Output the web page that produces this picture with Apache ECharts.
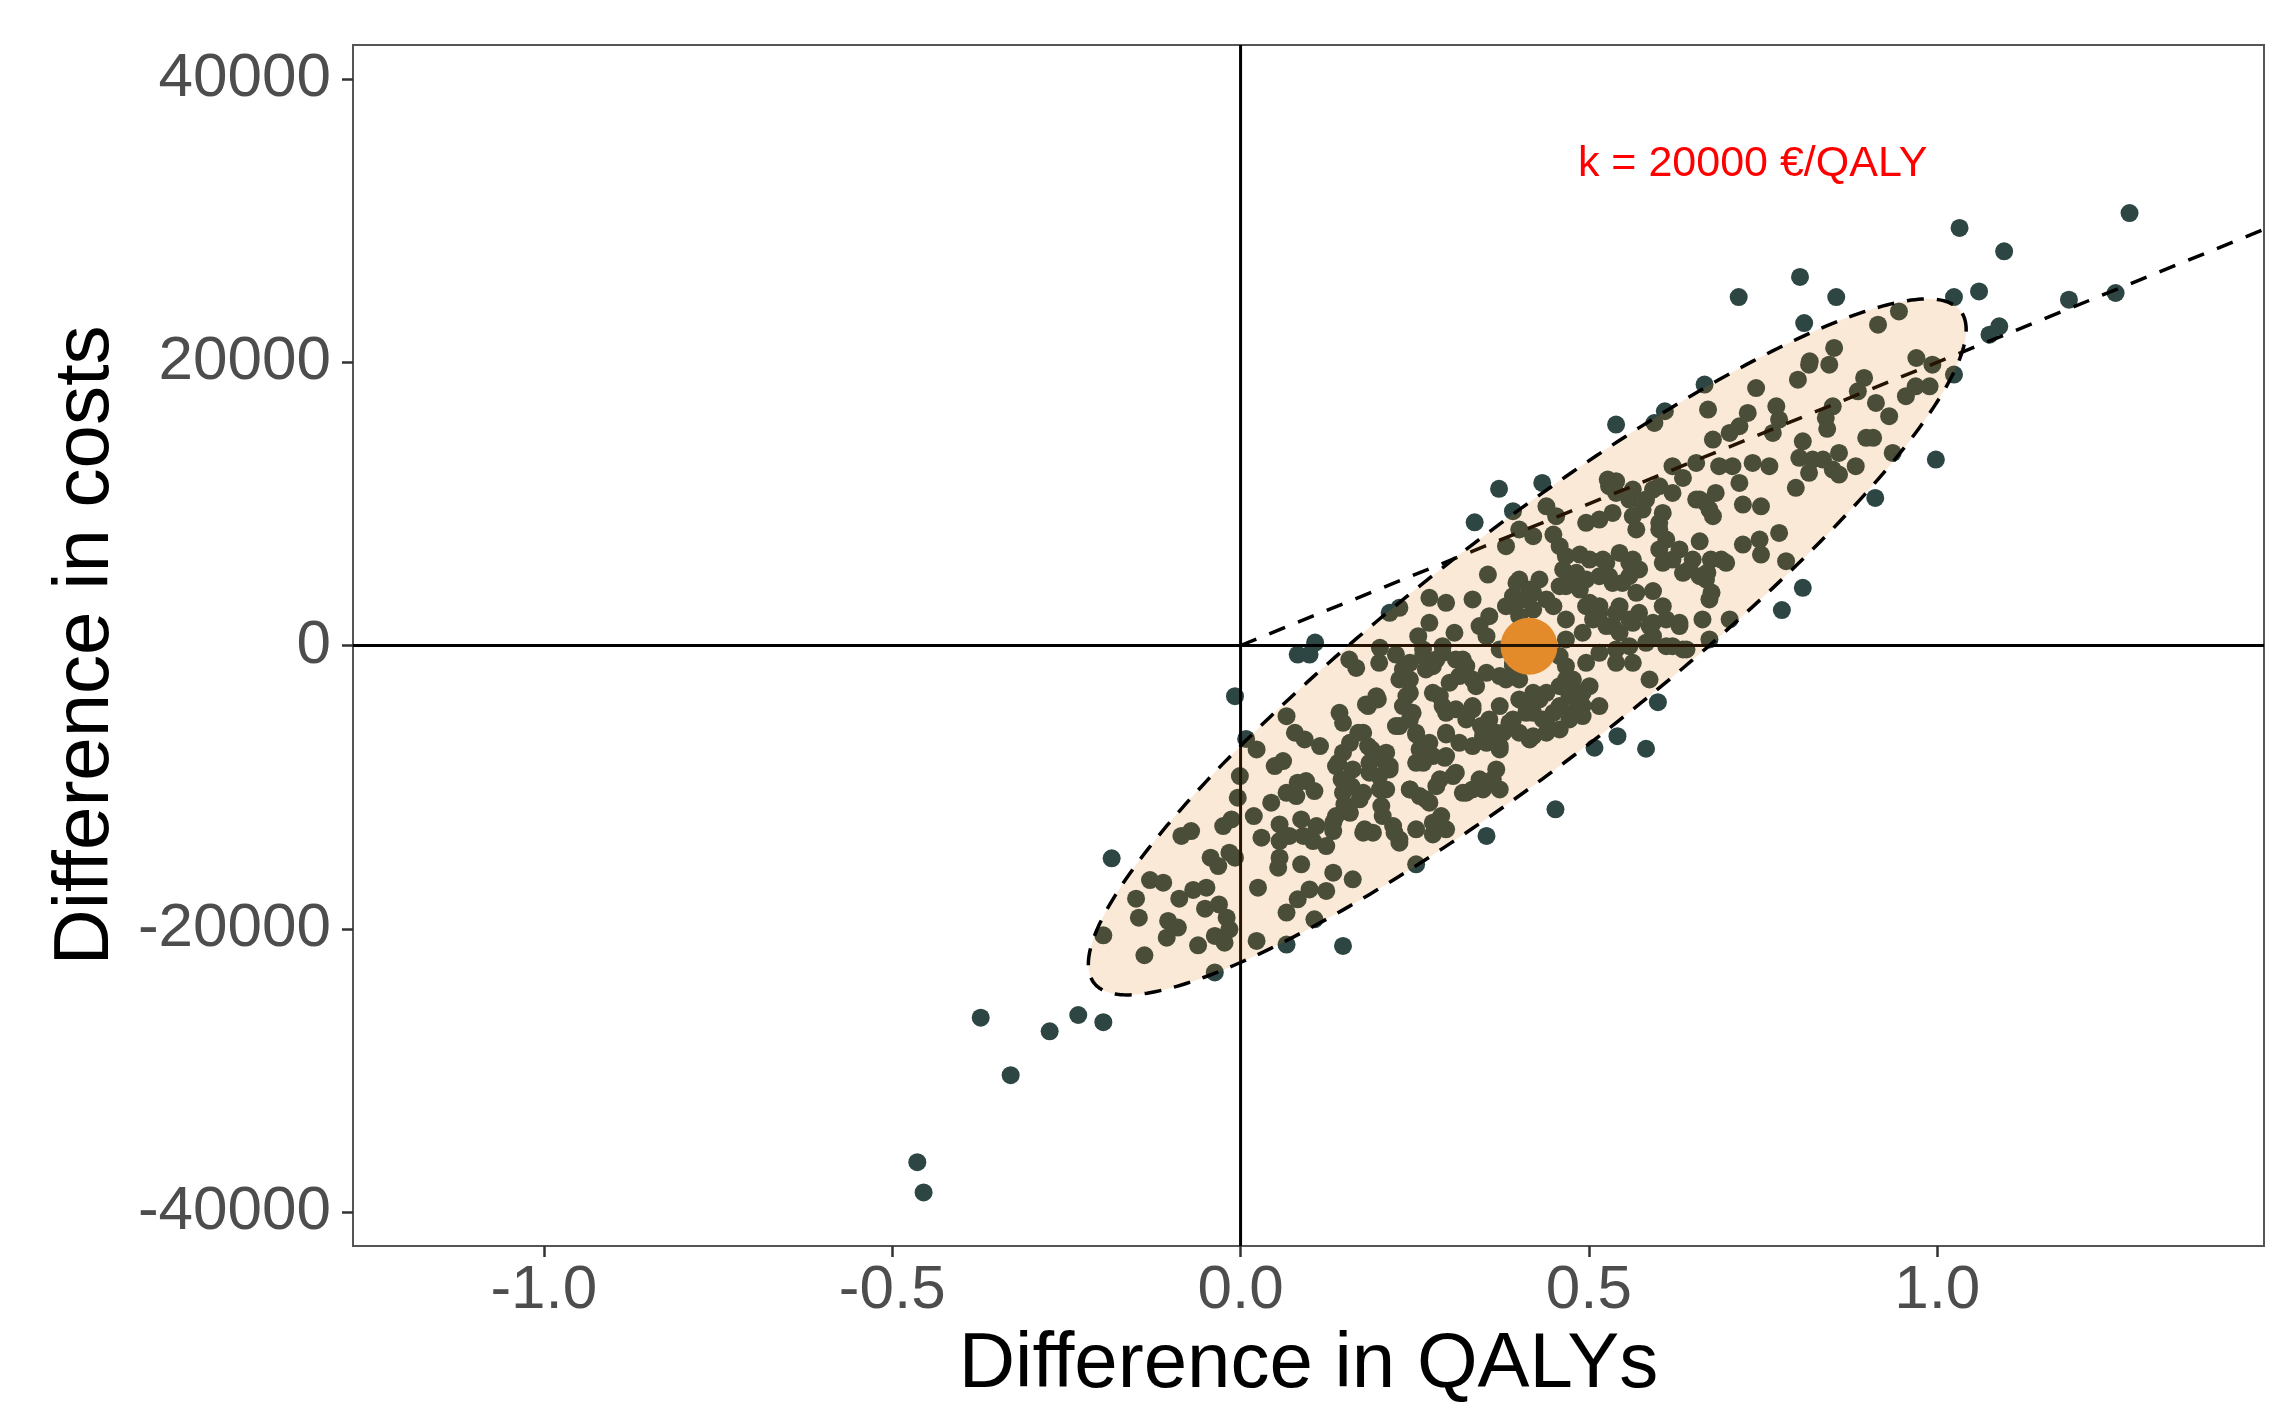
<!DOCTYPE html>
<html><head><meta charset="utf-8">
<script src="https://cdn.jsdelivr.net/npm/echarts@6/dist/echarts.min.js"></script>
<style>html,body{margin:0;padding:0;background:#fff;overflow:hidden}#c{width:2272px;height:1403px}</style>
</head><body><div id="c"></div>
<script>
// ---- data (QALY difference, cost difference) ----
const outlierPoints = [[-0.464,-36480],[-0.455,-38620],[-0.373,-26280],[-0.330,-30340],[-0.274,-27240],[-0.233,-26090],[-0.197,-26600],[-0.185,-15030],[-0.008,-3580],[0.008,-6600],[0.082,-640],[0.099,-640],[0.107,210],[0.066,-21120],[0.147,-21210],[0.252,-15450],[-0.037,-23080],[0.214,2310],[0.336,8700],[0.371,11060],[0.433,11480],[0.391,9480],[0.599,-4000],[0.541,-6400],[0.582,-7290],[0.508,-7220],[0.452,-11570],[0.666,18420],[0.609,16540],[0.539,15600],[0.911,10420],[0.807,4070],[0.777,2500],[1.096,27830],[0.803,26020],[0.715,24600],[0.855,24600],[0.809,22770],[1.024,24600],[1.060,25000],[1.189,24420],[1.256,24890],[1.089,22540],[1.075,21950],[1.024,19130],[0.998,13130],[1.032,29480],[1.276,30530]];
const lowerPoints = [[-0.197,-20460],[-0.138,-21870],[-0.146,-19220],[-0.150,-17880],[-0.130,-16560],[-0.111,-16750],[-0.088,-17880],[-0.068,-17260],[-0.049,-17100],[-0.104,-19450],[-0.090,-19920],[-0.106,-20630],[-0.061,-21170],[-0.051,-18580],[-0.031,-18280],[-0.020,-19220],[-0.016,-20040],[-0.037,-20510],[-0.023,-20980],[-0.043,-14980],[-0.032,-15570],[-0.016,-14630],[-0.008,-14980],[-0.025,-12750],[-0.013,-12280],[-0.085,-13450],[-0.071,-13100],[-0.004,-10750],[-0.001,-9220],[0.023,-7340],[0.019,-12040],[0.030,-13570],[0.025,-17100],[0.023,-20860]];
const lowerMidPoints = [[0.049,-8510],[0.061,-8160],[0.066,-4990],[0.078,-6160],[0.092,-6630],[0.114,-7100],[0.044,-11100],[0.066,-10400],[0.082,-9690],[0.094,-9570],[0.106,-10280],[0.080,-10630],[0.056,-12630],[0.087,-12280],[0.109,-12750],[0.056,-13810],[0.070,-13450],[0.090,-13450],[0.104,-13810],[0.123,-14160],[0.056,-14980],[0.054,-15690],[0.087,-15450],[0.133,-13100],[0.137,-12040],[0.149,-11220],[0.133,-16040],[0.161,-16510],[0.123,-17330],[0.099,-17220],[0.082,-17920],[0.066,-18860],[0.106,-19330],[0.142,-4750],[0.147,-5460],[0.137,-8510],[0.147,-7570],[0.145,-9460],[0.159,-9930],[0.176,-10400],[0.176,-6160],[0.188,-7340],[0.185,-8280],[0.209,-7570],[0.214,-8510],[0.199,-9220],[0.209,-10160],[0.202,-11340],[0.204,-12040],[0.178,-12980],[0.190,-13220],[0.221,-13220],[0.228,-13920],[0.180,-4160],[0.195,-3580],[0.156,-990],[0.166,-1580],[0.199,-1220],[0.223,-640],[0.233,-1690],[0.243,-2400],[0.243,-3340],[0.233,-4280],[0.243,-5220],[0.223,-5690],[0.252,-6280],[0.257,-7340],[0.252,-8280],[0.243,-10160],[0.257,-10630],[0.271,-11100],[0.281,-9930],[0.288,-12040],[0.276,-13340],[0.293,-7930],[0.295,-6280],[0.290,-4280],[0.300,-2630],[0.314,-2160],[0.319,-990],[0.281,-990],[0.266,-1690],[0.276,-3340],[0.305,-9220],[0.319,-10400],[0.262,-750]];
const lowerMidExtra = [[0.243,-1220],[0.262,-280],[0.276,-1460],[0.290,-520],[0.309,-990],[0.324,-1460],[0.333,-2400],[0.228,-2400],[0.238,-3570],[0.247,-4750],[0.228,-5690],[0.252,-6160],[0.271,-6870],[0.286,-3570],[0.295,-4750],[0.309,-4510],[0.324,-5220],[0.333,-4280],[0.345,-5690],[0.353,-6870],[0.367,-6160],[0.372,-7340],[0.386,-5690],[0.295,-6160],[0.314,-6870],[0.333,-7100],[0.295,-7810],[0.276,-7810],[0.262,-8280],[0.183,-4280],[0.197,-3810],[0.169,-6160],[0.183,-7100],[0.157,-6870],[0.140,-8280],[0.161,-8750],[0.185,-8980],[0.204,-8040],[0.214,-8750],[0.147,-10390],[0.171,-10860],[0.200,-10160],[0.157,-11810],[0.133,-12510],[0.176,-13220],[0.219,-12750],[0.228,-13690],[0.252,-12980],[0.276,-12510],[0.295,-12980],[0.243,-10160],[0.266,-10860],[0.286,-9450],[0.309,-8980],[0.324,-10390],[0.348,-10160],[0.362,-9450]];
const centralPoints = [[0.439,9830],[0.453,9130],[0.400,8190],[0.420,7720],[0.449,7830],[0.381,7010],[0.355,5010],[0.458,7010],[0.467,6310],[0.487,6420],[0.501,6070],[0.496,8660],[0.515,8890],[0.534,9360],[0.529,11250],[0.563,11010],[0.582,10300],[0.601,11250],[0.620,10770],[0.659,10300],[0.673,9600],[0.606,9360],[0.568,8190],[0.601,8190],[0.659,7360],[0.601,6780],[0.620,6070],[0.644,5370],[0.668,4660],[0.563,6070],[0.544,6540],[0.525,5840],[0.515,4890],[0.534,4420],[0.558,4890],[0.568,3720],[0.592,3840],[0.606,2780],[0.630,1600],[0.663,1840],[0.673,3250],[0.673,430],[0.635,-280],[0.611,-50],[0.587,1370],[0.563,1600],[0.544,2780],[0.534,1370],[0.515,2310],[0.496,2780],[0.491,900],[0.467,1840],[0.477,4660],[0.458,4190],[0.449,2780],[0.429,4660],[0.415,3950],[0.400,4660],[0.391,3480],[0.420,2540],[0.400,2070],[0.381,2780],[0.357,2070],[0.343,1370],[0.333,3250],[0.353,660],[0.372,-280],[0.467,430],[0.458,-750],[0.515,-520],[0.539,-280],[0.558,-50],[0.582,190],[0.563,-1220],[0.539,-1220],[0.496,-1220],[0.587,-2400],[0.467,-2400],[0.472,-3570],[0.491,-3340],[0.515,-4280],[0.491,-4980],[0.458,-4280],[0.439,-3340],[0.420,-3340],[0.410,-4280],[0.439,-5220],[0.415,-6630],[0.386,-5450],[0.372,-4280],[0.357,-5220],[0.348,-6400],[0.372,-7100],[0.333,-4510],[0.353,-1930],[0.381,-2400],[0.391,-1220],[0.338,-2870],[0.367,-8750],[0.372,-10160],[0.343,-9450],[0.333,-10160],[0.353,-13450],[0.228,2660],[0.271,3370],[0.295,3010],[0.271,1600],[0.255,660],[0.307,900],[0.200,-160],[0.290,-50]];
const centralExtra = [[0.396,4420],[0.420,3720],[0.405,3250],[0.391,2780],[0.439,3250],[0.463,5360],[0.482,5130],[0.496,4660],[0.467,4190],[0.487,3950],[0.520,6070],[0.558,5840],[0.572,5370],[0.529,4890],[0.548,4420],[0.501,3010],[0.515,2780],[0.539,2310],[0.558,1840],[0.506,1840],[0.525,1370],[0.544,900],[0.572,2310],[0.592,1600],[0.611,1840],[0.630,1370],[0.592,660],[0.620,-50],[0.640,-280],[0.601,8660],[0.611,7480],[0.630,6780],[0.649,6070],[0.606,5840],[0.635,5130],[0.659,4890],[0.539,10770],[0.558,10300],[0.577,9600],[0.592,11010],[0.563,9130],[0.654,10300],[0.668,10070],[0.678,9130],[0.682,10770],[0.391,-1460],[0.372,-2160],[0.400,-2400],[0.467,-1460],[0.477,-2400],[0.458,-2870],[0.482,-3340],[0.501,-2870],[0.491,-4280],[0.477,-4750],[0.449,-4750],[0.429,-3810],[0.420,-4750],[0.400,-3810],[0.410,-4750],[0.391,-5220],[0.377,-6160],[0.400,-6160],[0.420,-6400],[0.434,-5220],[0.439,-6160],[0.458,-5930],[0.472,-5220],[0.675,6070],[0.670,5150],[0.676,3740]];
const upperPoints = [[0.816,19830],[0.845,19830],[0.800,18770],[0.740,18180],[0.671,16660],[0.728,16420],[0.716,15480],[0.678,14540],[0.702,15010],[0.769,16890],[0.773,15950],[0.764,15010],[0.895,18890],[0.886,17950],[0.912,17130],[0.931,16190],[0.955,17600],[0.969,18300],[0.840,16070],[0.850,16890],[0.898,14660],[0.936,13600],[0.807,14420],[0.802,13250],[0.821,13130],[0.836,13130],[0.859,13600],[0.883,12660],[0.850,12420],[0.816,12190],[0.797,11130],[0.859,12070],[0.620,12660],[0.654,12890],[0.635,11830],[0.594,15710],[0.687,12660],[0.706,12660],[0.735,12890],[0.759,12660],[0.716,11480],[0.721,9950],[0.747,9830],[0.527,11720],[0.539,11600],[0.721,7130],[0.745,7480],[0.773,7950],[0.747,6420],[0.783,5950],[0.702,1840],[0.690,6070],[0.697,5840],[0.842,15300],[0.908,14660],[0.945,23590],[0.915,22650],[0.852,21010],[0.817,20070],[0.970,20300],[0.993,19830],[0.989,18300]];
const meanPoint = [0.414, -50];
const xTicks = [-1.0, -0.5, 0.0, 0.5, 1.0];
const yTicks = [-40000, -20000, 0, 20000, 40000];
const wtpK = 20000;
const wtpLabel = 'k = 20000 €/QALY';
const wtpLabelPos = [0.735, 34000];
const ellipseCenter = [0.4115, -100];
const ellipseU = [0.630, 22400];
const ellipseV = [0, 10100];
const XMIN = -1.274, XMAX = 1.469, YMIN = -42400, YMAX = 42400;

const allPoints = [].concat(outlierPoints, lowerPoints, lowerMidPoints, lowerMidExtra, centralPoints, centralExtra, upperPoints);
const ellipsePts = [];
for (let i = 0; i < 360; i++) {
  const t = i / 360 * Math.PI * 2;
  ellipsePts.push([ellipseCenter[0] + ellipseU[0]*Math.cos(t) + ellipseV[0]*Math.sin(t),
                   ellipseCenter[1] + ellipseU[1]*Math.cos(t) + ellipseV[1]*Math.sin(t)]);
}
const FONT = '"Liberation Sans", Arial, sans-serif';
const chart = echarts.init(document.getElementById('c'), null, {renderer: 'canvas'});
chart.setOption({
  animation: false,
  backgroundColor: '#fff',
  grid: {left: 353, top: 45, width: 1911, height: 1201, outerBoundsMode: 'none', containLabel: false,
    show: true, borderColor: '#555', borderWidth: 2, backgroundColor: 'transparent'},
  xAxis: {
    type: 'value', min: XMIN, max: XMAX,
    name: 'Difference in QALYs', nameLocation: 'middle', nameGap: 79,
    nameTextStyle: {fontSize: 78, color: '#000', fontFamily: FONT},
    axisLine: {show: false, onZero: false}, splitLine: {show: false},
    axisTick: {show: true, length: 11, lineStyle: {color: '#333', width: 2.5}, customValues: xTicks},
    axisLabel: {customValues: xTicks, fontSize: 62, color: '#4d4d4d', fontFamily: FONT, margin: 14,
      formatter: v => v.toFixed(1)}
  },
  yAxis: {
    type: 'value', min: YMIN, max: YMAX,
    name: 'Difference in costs', nameLocation: 'middle', nameGap: 228,
    nameTextStyle: {fontSize: 78, color: '#000', fontFamily: FONT},
    axisLine: {show: false, onZero: false}, splitLine: {show: false},
    axisTick: {show: true, length: 11, lineStyle: {color: '#333', width: 2.5}, customValues: yTicks},
    axisLabel: {customValues: yTicks, fontSize: 62, color: '#4d4d4d', fontFamily: FONT, margin: 22,
      formatter: v => String(v)}
  },
  series: [
    {type: 'scatter', data: allPoints, symbolSize: 18, itemStyle: {color: '#2d4644', opacity: 1}, z: 2, silent: true},
    {type: 'scatter', data: [meanPoint], symbolSize: 57, itemStyle: {color: '#e48f32', opacity: 1}, z: 3, silent: true},
    {type: 'line', data: [[XMIN, 0], [XMAX, 0]], symbol: 'none', lineStyle: {color: '#000', width: 3}, z: 4, silent: true},
    {type: 'line', data: [[0, YMIN], [0, YMAX]], symbol: 'none', lineStyle: {color: '#000', width: 3}, z: 4, silent: true},
    {type: 'line', data: [[0, 0], [XMAX, wtpK * XMAX]], symbol: 'none', lineStyle: {color: '#000', width: 3.5, type: [17, 14]}, z: 5, silent: true},
    {type: 'custom', z: 6, silent: true, data: [0],
      renderItem: (params, api) => ({
        type: 'polygon',
        shape: {points: ellipsePts.map(p => api.coord(p))},
        style: {fill: 'rgba(225,120,5,0.165)', stroke: '#000', lineWidth: 3.5, lineDash: [17, 13]}
      })},
    {type: 'custom', z: 7, silent: true, data: [wtpLabelPos],
      renderItem: (params, api) => {
        const p = api.coord([api.value(0), api.value(1)]);
        return {type: 'text', x: p[0], y: p[1], style: {text: wtpLabel, fill: '#ff0000', font: '43px ' + FONT, textAlign: 'center', textVerticalAlign: 'middle'}};
      }}
  ]
});
</script></body></html>
